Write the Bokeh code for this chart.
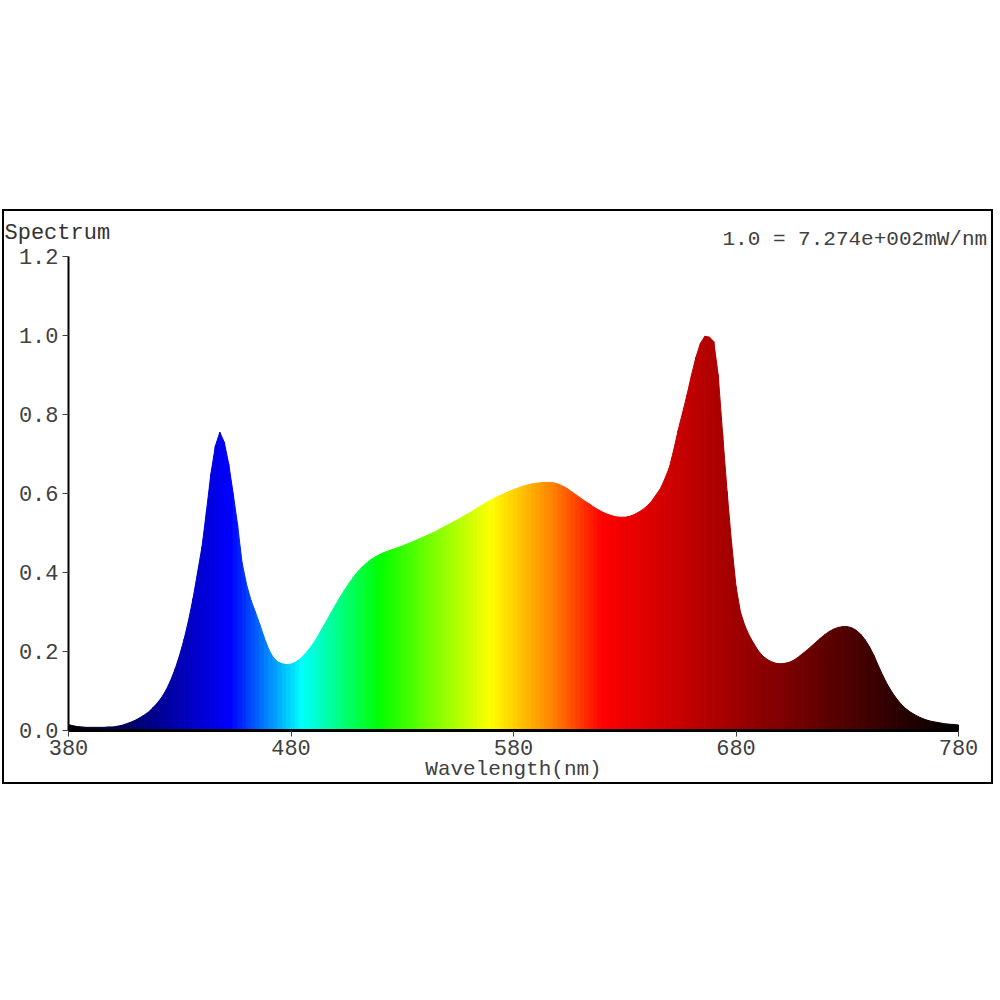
from bokeh.plotting import figure
from bokeh.models import FixedTicker, Label
from bokeh.embed import file_html
from bokeh.resources import INLINE

# ---------------- data ----------------
wavelength = list(range(380, 781, 2))
intensity = [
    0.015, 0.012, 0.010, 0.009, 0.008, 0.008, 0.008, 0.008, 0.008, 0.009,  # 380-398
    0.009, 0.011, 0.013, 0.017, 0.021, 0.026, 0.032, 0.039, 0.047, 0.058,  # 400-418
    0.070, 0.085, 0.104, 0.128, 0.157, 0.192, 0.232, 0.280, 0.335, 0.400,  # 420-438
    0.465, 0.555, 0.650, 0.720, 0.755, 0.730, 0.675, 0.600, 0.520, 0.425,  # 440-458
    0.370, 0.330, 0.300, 0.268, 0.235, 0.205, 0.185, 0.174, 0.169, 0.167,  # 460-478
    0.168, 0.173, 0.181, 0.192, 0.205, 0.220, 0.238, 0.258, 0.278, 0.298,  # 480-498
    0.318, 0.337, 0.355, 0.372, 0.388, 0.402, 0.414, 0.424, 0.433, 0.440,  # 500-518
    0.446, 0.451, 0.455, 0.459, 0.463, 0.467, 0.472, 0.476, 0.481, 0.486,  # 520-538
    0.491, 0.496, 0.501, 0.507, 0.513, 0.519, 0.525, 0.531, 0.537, 0.544,  # 540-558
    0.550, 0.557, 0.564, 0.571, 0.578, 0.584, 0.590, 0.595, 0.600, 0.605,  # 560-578
    0.610, 0.614, 0.618, 0.621, 0.624, 0.626, 0.627, 0.628, 0.628, 0.627,  # 580-598
    0.624, 0.619, 0.613, 0.605, 0.597, 0.589, 0.581, 0.574, 0.566, 0.559,  # 600-618
    0.553, 0.548, 0.544, 0.541, 0.540, 0.540, 0.542, 0.546, 0.552, 0.559,  # 620-638
    0.568, 0.580, 0.596, 0.612, 0.637, 0.665, 0.710, 0.760, 0.805, 0.850,  # 640-658
    0.900, 0.945, 0.980, 0.998, 0.996, 0.985, 0.900, 0.750, 0.605, 0.475,  # 660-678
    0.365, 0.300, 0.265, 0.240, 0.220, 0.202, 0.189, 0.180, 0.174, 0.170,  # 680-698
    0.169, 0.170, 0.173, 0.178, 0.186, 0.195, 0.204, 0.214, 0.224, 0.234,  # 700-718
    0.243, 0.251, 0.257, 0.261, 0.263, 0.263, 0.260, 0.254, 0.244, 0.230,  # 720-738
    0.212, 0.190, 0.164, 0.139, 0.117, 0.098, 0.082, 0.068, 0.057, 0.048,  # 740-758
    0.041, 0.035, 0.030, 0.026, 0.023, 0.021, 0.019, 0.017, 0.016, 0.015,  # 760-778
    0.014,                                                                # 780
]
x_ticks = [380, 480, 580, 680, 780]
y_ticks = [0.0, 0.2, 0.4, 0.6, 0.8, 1.0, 1.2]
y_tick_labels = ["0.0", "0.2", "0.4", "0.6", "0.8", "1.0", "1.2"]
x_title = "Wavelength(nm)"
y_title = "Spectrum"
scale_note = "1.0 = 7.274e+002mW/nm"

X_MIN, X_MAX = 380, 780
Y_MIN, Y_MAX = 0.0, 1.2

# ---------------- colour stops (style) ----------------
stops = [(380, (0, 0, 0)), (415, (0, 0, 128)), (453, (0, 0, 255)),
         (485, (0, 255, 255)), (520, (0, 255, 0)), (570, (255, 255, 0)),
         (598, (255, 128, 0)), (620, (255, 0, 0)), (780, (0, 0, 0))]


def spectral_color(w):
    for (w0, c0), (w1, c1) in zip(stops[:-1], stops[1:]):
        if w0 <= w <= w1:
            t = (w - w0) / (w1 - w0)
            r, g, b = (round(a + (bb - a) * t) for a, bb in zip(c0, c1))
            return "#%02x%02x%02x" % (r, g, b)
    return "#000000"


# ---------------- pixel geometry (style) ----------------
FONT = "Liberation Mono"
FS = "22px"
W, H = 991, 575                 # canvas size (frame fills the whole canvas)
AX_LEFT, AX_RIGHT = 64, 954     # axis extent inside canvas (px)
AX_TOP, AX_BOTTOM = 45, 519

ppx = (AX_RIGHT - AX_LEFT) / (X_MAX - X_MIN)
ppy = (AX_BOTTOM - AX_TOP) / (Y_MAX - Y_MIN)
x_start = X_MIN - AX_LEFT / ppx
x_end = X_MAX + (W - AX_RIGHT) / ppx
y_start = Y_MIN - (H - AX_BOTTOM) / ppy
y_end = Y_MIN + AX_BOTTOM / ppy

p = figure(width=W, height=H, x_range=(x_start, x_end), y_range=(y_start, y_end),
           output_backend="svg", toolbar_location=None,
           min_border_left=0, min_border_right=0, min_border_top=0, min_border_bottom=0)
p.styles = {"border": "2px solid black", "margin-left": "2px", "margin-top": "209px"}
p.outline_line_color = None
p.xgrid.visible = False
p.ygrid.visible = False
p.background_fill_color = "white"
p.border_fill_color = "white"

xs, ys, cols = [], [], []
for i in range(len(wavelength) - 1):
    w0, w1 = wavelength[i], wavelength[i + 1]
    v0, v1 = intensity[i], intensity[i + 1]
    xs.append([w0, w1, w1, w0])
    ys.append([0, 0, v1, v0])
    cols.append(spectral_color((w0 + w1) / 2))

p.patches(xs, ys, fill_color=cols, line_color=cols, line_width=1.0)

# axes
for ax in (p.xaxis, p.yaxis):
    ax.major_label_text_font = FONT
    ax.major_label_text_font_size = FS
    ax.major_label_text_color = "#404040"
    ax.major_tick_out = 6
    ax.major_tick_in = 0
    ax.minor_tick_line_color = None
    ax.major_tick_line_color = "#404040"
    ax.axis_line_color = "black"

p.xaxis.ticker = FixedTicker(ticks=x_ticks)
p.xaxis.bounds = (X_MIN, X_MAX)
p.xaxis.fixed_location = Y_MIN
p.xaxis.axis_line_width = 3
p.xaxis.major_label_standoff = 3

p.yaxis.ticker = FixedTicker(ticks=y_ticks)
p.yaxis.major_label_overrides = {t: l for t, l in zip(y_ticks, y_tick_labels)}
p.yaxis.bounds = (Y_MIN, Y_MAX)
p.yaxis.fixed_location = X_MIN
p.yaxis.axis_line_width = 2
p.yaxis.major_label_standoff = 4

p.add_layout(Label(x=(X_MIN + X_MAX) / 2, y=Y_MIN, y_offset=-39, text=x_title,
                   text_font=FONT, text_font_size="21px", text_color="#404040",
                   text_align="center", text_baseline="middle"))
p.add_layout(Label(x=x_start, y=Y_MAX, x_offset=0, y_offset=23, text=y_title,
                   text_font=FONT, text_font_size=FS, text_color="#333333",
                   text_align="left", text_baseline="middle"))
p.add_layout(Label(x=X_MAX, y=Y_MAX, x_offset=-236, y_offset=17, text=scale_note,
                   text_font=FONT, text_font_size="21px", text_color="#404040",
                   text_align="left", text_baseline="middle"))

open("out.html", "w").write(file_html(p, INLINE))
